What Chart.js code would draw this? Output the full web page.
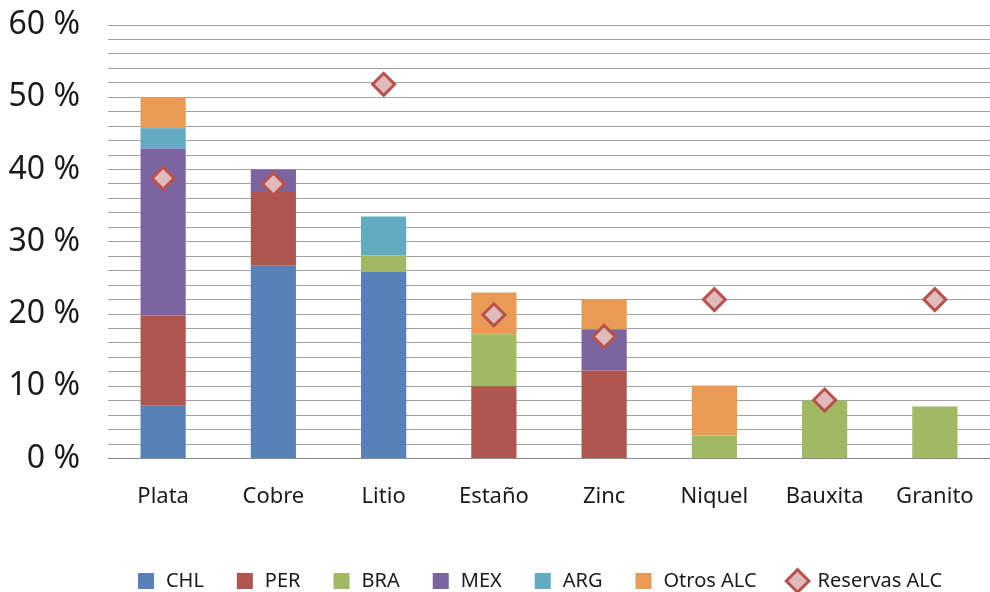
<!DOCTYPE html>
<html>
<head>
<meta charset="utf-8">
<script src="https://cdn.jsdelivr.net/npm/chart.js@4.4.1/dist/chart.umd.min.js"></script>
<style>
  html, body { margin: 0; padding: 0; background: #fff; }
  #wrap { width: 990px; height: 592px; position: relative; }
</style>
</head>
<body>
<div id="wrap"><canvas id="chart"></canvas></div>
<script>
// Datos (porcentaje)
const categorias = ['Plata', 'Cobre', 'Litio', 'Estaño', 'Zinc', 'Niquel', 'Bauxita', 'Granito'];
const chl   = [7.3, 26.7, 25.9, 0, 0, 0, 0, 0];
const per   = [12.5, 10.2, 0, 10.0, 12.2, 0, 0, 0];
const bra   = [0, 0, 2.2, 7.2, 0, 3.2, 8.0, 7.2];
const mex   = [23.1, 3.1, 0, 0, 5.7, 0, 0, 0];
const arg   = [2.8, 0, 5.4, 0, 0, 0, 0, 0];
const otros = [4.3, 0, 0, 5.8, 4.1, 6.9, 0, 0];
const reservas = [38.8, 38.0, 51.8, 19.9, 16.9, 22.0, 8.1, 22.0];
const yTicks = [0, 10, 20, 30, 40, 50, 60];

const FONT = "'Noto Sans', sans-serif";

function barra(label, data, color) {
    return {
        type: 'bar',
        label: label,
        data: data,
        backgroundColor: color,
        borderWidth: 0,
        stack: 'paises',
        order: 1,
        categoryPercentage: 1,
        barPercentage: 0.41
    };
}

// Ajustes de la leyenda: más baja y centrada sobre el área del gráfico
const ajustarLeyenda = {
    id: 'ajustarLeyenda',
    afterInit(chart) {
        const leg = chart.legend;
        const fit = leg.fit.bind(leg);
        leg.fit = function () {
            fit();
            this.height -= 9;
        };
    },
    afterLayout(chart) {
        chart.legend.left += 80;
    }
};

const ctx = document.getElementById('chart').getContext('2d');
new Chart(ctx, {
    data: {
        labels: categorias,
        datasets: [
            barra('CHL', chl, '#5880b9'),
            barra('PER', per, '#b05650'),
            barra('BRA', bra, '#a1b963'),
            barra('MEX', mex, '#7c64a0'),
            barra('ARG', arg, '#63aac3'),
            barra('Otros ALC', otros, '#e99b55'),
            {
                type: 'line',
                label: 'Reservas ALC',
                data: reservas,
                showLine: false,
                stack: 'reservas',
                order: 0,
                pointStyle: 'rectRot',
                pointRadius: 11,
                pointHoverRadius: 11,
                pointBackgroundColor: '#dfbcbb',
                pointBorderColor: '#b9514d',
                pointBorderWidth: 3,
                backgroundColor: '#dfbcbb',
                borderColor: '#b9514d',
                borderWidth: 3
            }
        ]
    },
    options: {
        responsive: true,
        maintainAspectRatio: false,
        animation: false,
        layout: { autoPadding: false, padding: { left: 8, top: 0, right: 0, bottom: 0 } },
        scales: {
            x: {
                stacked: true,
                grid: { display: false },
                border: { display: true, color: '#8a8a8a', width: 1 },
                ticks: { color: '#1a1a1a', font: { family: FONT, size: 22 }, padding: 17 },
                afterFit(scale) {
                    scale.height += 13;
                    scale.paddingRight = 0;
                    scale.paddingLeft = 0;
                }
            },
            y: {
                stacked: true,
                min: 0,
                max: 60,
                border: { display: false },
                grid: { color: '#a3a3a3', lineWidth: 1, drawTicks: false },
                ticks: {
                    stepSize: 2,
                    autoSkip: false,
                    padding: 28,
                    color: '#1a1a1a',
                    font: { family: FONT, size: 32 },
                    callback: v => yTicks.includes(v) ? v + ' %' : ''
                },
                afterFit(scale) {
                    scale.width = 100;
                    scale.paddingTop = 25;
                    scale.paddingBottom = 0;
                }
            }
        },
        plugins: {
            tooltip: { enabled: false },
            legend: {
                position: 'bottom',
                labels: {
                    usePointStyle: true,
                    boxHeight: 16,
                    padding: 31,
                    color: '#1a1a1a',
                    font: { family: FONT, size: 20 },
                    sort: (a, b) => a.datasetIndex - b.datasetIndex,
                    generateLabels(chart) {
                        const items = Chart.defaults.plugins.legend.labels.generateLabels(chart);
                        items.forEach(it => {
                            if (it.text !== 'Reservas ALC') {
                                it.pointStyle = 'rect';
                                it.lineWidth = 0;
                                it.strokeStyle = 'rgba(0,0,0,0)';
                            } else {
                                it.pointStyle = 'rectRot';
                                it.fillStyle = '#dfbcbb';
                                it.strokeStyle = '#b9514d';
                                it.lineWidth = 3;
                            }
                        });
                        return items;
                    }
                }
            }
        }
    },
    plugins: [ajustarLeyenda]
});
</script>
</body>
</html>
